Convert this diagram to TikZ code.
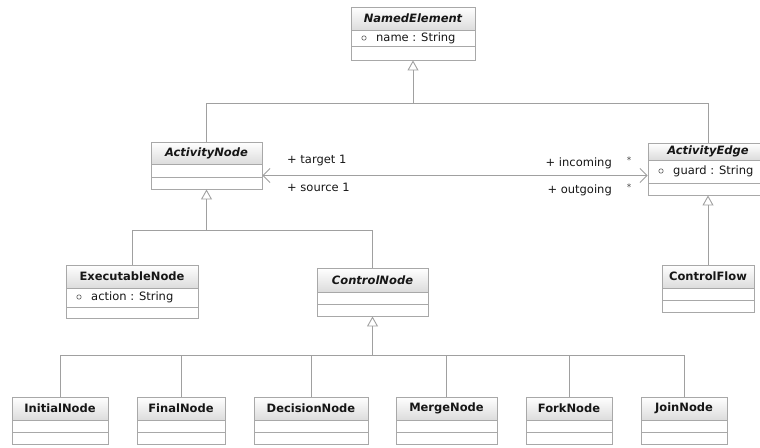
\documentclass[tikz,border=0pt]{standalone}
\usepackage{fontspec}
\setmainfont{DejaVu Sans}
\usetikzlibrary{arrows.meta,fit,calc}
\definecolor{boxgray}{HTML}{A8A8A8}
\definecolor{linegray}{HTML}{A0A0A0}
\definecolor{txt}{HTML}{161616}
\definecolor{titlebot}{HTML}{DCDCDC}
\tikzset{
  x=1pt, y=-1pt,
  classframe/.style={draw=boxgray, line width=0.9pt, inner sep=0pt},
  divider/.style={draw=boxgray, line width=0.9pt},
  titletext/.style={font=\fontsize{11.5}{13}\selectfont\bfseries, text=txt, inner sep=0pt},
  abstracttext/.style={font=\fontsize{11.5}{13}\selectfont\bfseries\itshape, text=txt, inner sep=0pt},
  attrtext/.style={font=\fontsize{11.5}{13}\selectfont, text=txt, inner sep=0pt, anchor=west},
  roletext/.style={font=\fontsize{11.5}{13}\selectfont, text=txt, inner sep=0pt},
  startext/.style={font=\fontsize{9}{10}\selectfont, text=txt!80, inner sep=0pt},
  conn/.style={draw=linegray, line width=0.9pt},
  gen/.style={conn, -{Triangle[open, length=10pt, width=11pt, line width=0.9pt]}},
  assoc/.style={conn, {Straight Barb[length=7pt, width=14pt, line width=0.9pt]}-{Straight Barb[length=7pt, width=14pt, line width=0.9pt]}},
}
% #1 name, #2 left, #3 right, #4 top, #5 title bottom, #6 attr bottom, #7 bottom, #8 title style, #9 title
\newcommand\umlbox[9]{%
  \fill[top color=white, bottom color=titlebot] (#2,#4) rectangle (#3,#5);
  \node[classframe, fit={(#2,#4) (#3,#7)}] (#1) {};
  \draw[divider] (#2,#5) -- (#3,#5);
  \draw[divider] (#2,#6) -- (#3,#6);
  \node[#8] (#1-title) at ({(#2+#3)/2},{(#4+#5)/2}) {#9};
}
\newcommand\umlattr[4]{% #1 name, #2 left, #3 y, #4 text
  \draw[txt!70, line width=0.6pt] (#2+13,#3) circle (2.2pt);
  \node[attrtext] (#1) at (#2+25,#3) {#4};
}
\begin{document}
\begin{tikzpicture}
\useasboundingbox (0,0) rectangle (760,447);
\begin{scope}
\clip (0,0) rectangle (760,447);
% classes
\umlbox{NamedElement}{351}{475}{7}{30}{46}{60}{abstracttext}{NamedElement}
\umlattr{NamedElement-a}{351}{38}{name : String}

\umlbox{ActivityNode}{151}{262}{142}{164}{177}{189}{abstracttext}{ActivityNode}
\umlbox{ActivityEdge}{648}{768}{143}{160}{183}{195}{abstracttext}{ActivityEdge}
\umlattr{ActivityEdge-a}{648}{171}{guard : String}

\umlbox{ExecutableNode}{66}{198}{265}{288}{307}{318}{titletext}{ExecutableNode}
\umlattr{ExecutableNode-a}{66}{297}{action : String}
\umlbox{ControlNode}{317}{428}{268}{292}{304}{316}{abstracttext}{ControlNode}
\umlbox{ControlFlow}{662}{754}{265}{288}{300}{312}{titletext}{ControlFlow}

\umlbox{InitialNode}{12}{108}{397}{420}{432}{444}{titletext}{InitialNode}
\umlbox{FinalNode}{137}{225}{397}{420}{432}{444}{titletext}{FinalNode}
\umlbox{DecisionNode}{254}{368}{397}{420}{432}{444}{titletext}{DecisionNode}
\umlbox{MergeNode}{396}{497}{397}{420}{432}{444}{titletext}{MergeNode}
\umlbox{ForkNode}{526}{612}{397}{420}{432}{444}{titletext}{ForkNode}
\umlbox{JoinNode}{641}{727}{397}{420}{432}{444}{titletext}{JoinNode}

% generalisation buses
\coordinate (bus1) at (NamedElement.south |- 0,103);
\draw[conn] (ActivityNode.north) |- (bus1);
\draw[conn] (ActivityEdge.north) |- (bus1);
\draw[gen] (bus1) -- (NamedElement.south);

\coordinate (bus2) at (ActivityNode.south |- 0,230);
\draw[conn] (ExecutableNode.north) |- (bus2);
\draw[conn] (ControlNode.north) |- (bus2);
\draw[gen] (bus2) -- (ActivityNode.south);

\draw[gen] (ControlFlow.north) -- (ActivityEdge.south);

\coordinate (bus3) at (ControlNode.south |- 0,355);
\foreach \n in {InitialNode,FinalNode,DecisionNode,MergeNode,ForkNode,JoinNode}
  \draw[conn] (\n.north) |- (bus3);
\draw[gen] (bus3) -- (ControlNode.south);

% association
\coordinate (aL) at (ActivityNode.east |- 0,175.5);
\coordinate (aR) at (ActivityEdge.west |- 0,175.5);
\draw[assoc] (aL) -- (aR);
\node[roletext, anchor=west] (tgt) at (287,161) {+ target 1};
\node[roletext, anchor=west] (src) at (287,187) {+ source 1};
\node[roletext, anchor=east] (inc) at (612,163) {+ incoming};
\node[roletext, anchor=east] (out) at (612,190) {+ outgoing};
\node[startext] (incm) at (629,160) {*};
\node[startext] (outm) at (629,187) {*};
\end{scope}
\end{tikzpicture}
\end{document}
